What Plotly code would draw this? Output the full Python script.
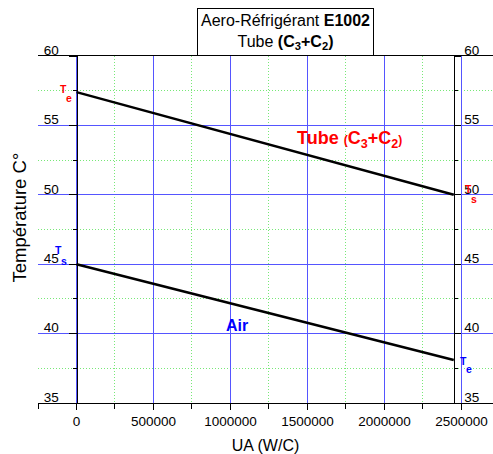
import plotly.graph_objects as go

# data
tube_x = [0, 2450000]
tube_y = [57.4, 50.0]
air_x = [0, 2450000]
air_y = [45.0, 38.1]
x_ticks = [0, 500000, 1000000, 1500000, 2000000, 2500000]
y_ticks = [35, 40, 45, 50, 55, 60]

FONT = "Liberation Sans, Arial, sans-serif"
GRID_BLUE = "#5555ff"
GRID_GREEN = "#77e877"
RED = "#ff0000"
BLUE = "#0000ff"

fig = go.Figure()
fig.add_trace(go.Scatter(x=tube_x, y=tube_y, mode="lines",
                         line=dict(color="black", width=2.5),
                         showlegend=False, hoverinfo="skip"))
fig.add_trace(go.Scatter(x=air_x, y=air_y, mode="lines", yaxis="y2",
                         line=dict(color="black", width=2.5),
                         showlegend=False, hoverinfo="skip"))

yaxis_common = dict(
    range=[35, 60], tickvals=y_ticks, ticktext=[str(v) for v in y_ticks],
    showline=True, linecolor="black", linewidth=1.2,
    ticks="outside", tickcolor="black", tickwidth=1.2,
    tickfont=dict(family=FONT, size=13.5, color="black"),
    ticklabelshift=-6, zeroline=False,
)

fig.update_layout(
    width=493, height=454,
    margin=dict(l=38, r=0, t=56, b=51),
    plot_bgcolor="white", paper_bgcolor="white",
    font=dict(family=FONT, color="black"),
    xaxis=dict(
        range=[-250000, 2705000], tickvals=x_ticks,
        ticktext=[str(v) for v in x_ticks],
        showgrid=True, gridcolor=GRID_BLUE, gridwidth=1,
        minor=dict(dtick=250000, tick0=0, showgrid=True, gridcolor=GRID_GREEN,
                   griddash="1px,2px", gridwidth=1, ticks="outside", ticklen=5,
                   tickcolor="black"),
        showline=True, linecolor="black", linewidth=1.2, mirror=True,
        ticks="outside", ticklen=6, tickcolor="black", tickwidth=1.2,
        tickfont=dict(family=FONT, size=13.5),
        zeroline=False,
        title=dict(text="UA (W/C)", font=dict(family=FONT, size=16), standoff=11),
    ),
    yaxis=dict(
        **yaxis_common,
        anchor="free", position=0.085, side="left", ticklen=8,
        showgrid=True, gridcolor=GRID_BLUE, gridwidth=1,
        minor=dict(dtick=2.5, tick0=0, showgrid=True, gridcolor=GRID_GREEN,
                   griddash="1px,2px", gridwidth=1, ticks="outside", ticklen=4,
                   tickcolor="black"),
        ticklabelstandoff=7,
    ),
    yaxis2=dict(
        **yaxis_common,
        overlaying="y", anchor="free", position=0.915, side="right", ticklen=6,
        showgrid=False,
        minor=dict(dtick=2.5, tick0=0, ticks="outside", ticklen=3,
                   tickcolor="black"),
        ticklabelstandoff=0,
    ),
)

ann = []
# title box
ann.append(dict(
    xref="paper", yref="paper", x=0.545, y=1.07, xanchor="center", yanchor="middle",
    text="Aero-Réfrigérant <b>E1002</b><br>Tube <b>(C<sub>3</sub>+C<sub>2</sub>)</b>",
    showarrow=False, font=dict(family=FONT, size=16, color="black"),
    bordercolor="black", borderwidth=1, borderpad=3, bgcolor="white",
))
# y title
ann.append(dict(
    xref="paper", yref="paper", x=-0.0396, y=0.5346, xanchor="center", yanchor="middle",
    text="Température C°", textangle=-90, showarrow=False,
    font=dict(family=FONT, size=18.5, color="black"),
))
# series labels
ann.append(dict(
    x=1770000, y=53.95, xref="x", yref="y",
    text="<b>Tube <span style='font-size:12px'>(</span>C<sub>3</sub>+C<sub>2</sub><span style='font-size:12px'>)</span></b>",
    showarrow=False, xanchor="center", yanchor="middle",
    font=dict(family=FONT, size=18, color=RED),
))
ann.append(dict(
    x=1040000, y=40.6, xref="x", yref="y", text="<b>Air</b>",
    showarrow=False, xanchor="center", yanchor="middle",
    font=dict(family=FONT, size=16, color=BLUE),
))

# end labels: main letter "T" and its subscript letter
def end_label(x, y, sub, color, t_shift, s_shift):
    base = dict(showarrow=False, xref="x", yref="y", x=x, y=y,
                xanchor="center", yanchor="middle")
    ann.append(dict(base, text="<b>T</b>", xshift=t_shift[0], yshift=t_shift[1],
                    font=dict(family=FONT, size=10.5, color=color)))
    ann.append(dict(base, text="<b>" + sub + "</b>", xshift=s_shift[0], yshift=s_shift[1],
                    font=dict(family=FONT, size=10.5, color=color)))

end_label(tube_x[0], tube_y[0], "e", RED, (-13, 3), (-7, -5.5))
end_label(tube_x[1], tube_y[1], "s", RED, (15, 6), (20, -4))
end_label(air_x[0], air_y[0], "s", BLUE, (-17.5, 14), (-12, 3.5))
end_label(air_x[1], air_y[1], "e", BLUE, (9.5, -1.5), (15.5, -9))

fig.update_layout(annotations=ann)

fig.write_html("out.html")
